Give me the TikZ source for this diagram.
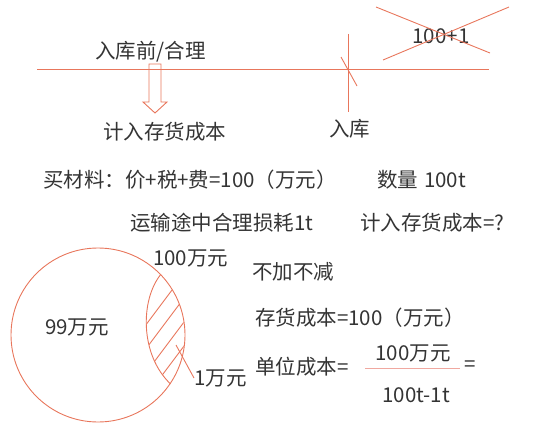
\documentclass[tikz,border=0pt]{standalone}
\usepackage{fontspec}
\setmainfont{Noto Sans CJK SC}
\definecolor{penred}{RGB}{232,118,92}
\definecolor{inkgray}{RGB}{52,52,52}
\definecolor{fracpink}{RGB}{240,168,160}
\tikzset{
  lbl/.style={font=\fontsize{20.5}{24}\selectfont, text=inkgray, inner sep=0pt, anchor=west},
  pen/.style={penred, line width=0.9pt},
}

\begin{document}
\begin{tikzpicture}[x=1pt,y=-1pt]
\useasboundingbox (0,0) rectangle (537,425);
% time line
\draw[pen] (37,69) -- (489,69);
\node[lbl] (before) at (95,52) {入库前/合理};
\draw[pen] (149,64) -- (161,64) -- (161,102) -- (167,102) -- (155,113) -- (143,102) -- (149,102) -- cycle;
\node[lbl] (costin) at (103,132) {计入存货成本};
\draw[pen] (348,34) -- (348,112);
\draw[pen] (341,57) -- (357,86);
\node[lbl] (instock) at (329,129) {入库};
\node[lbl, anchor=center] (wrong) at (441,36) {100+1};
\draw[pen] (wrong.center) ++(-65,-29) -- ++(114,46);
\draw[pen] (wrong.center) ++(-58,24) -- ++(126,-53);
% given data
\node[lbl] (buy) at (43,180) {买材料：价+税+费=100（万元）};
\node[lbl] (qty) at (377,180) {数量\hspace{6pt}100t};
\node[lbl] (loss) at (130,223) {运输途中合理损耗1t};
\node[lbl] (ask) at (360,223) {计入存货成本=?};
% pie
\node[pen, draw, circle, minimum size=174pt, inner sep=0pt] (pie) at (98,335) {};
\draw[pen] (pie.44) .. controls (140,300) and (140,355) .. (pie.-34);
\begin{scope}
  \clip (98,335) circle (86.5pt);
  \clip (pie.44) .. controls (140,300) and (140,355) .. (pie.-34) -- (200,400) -- (200,260) -- cycle;
  \foreach \y in {346,370,394,418}
    \draw[pen] (130,\y) -- ++(60,-80);
\end{scope}
\node[lbl] (main) at (45,327) {99万元};
\node[lbl] (total) at (153,258) {100万元};
\node[lbl] (onewan) at (194,378) {1万元};
\coordinate (hatchpt) at (176,345);
\draw[pen] (hatchpt) -- (onewan.west);
% unit cost
\node[lbl] (nochg) at (252,272) {不加不减};
\node[lbl] (cost) at (255,318) {存货成本=100（万元）};
\node[lbl] (unit) at (255,367) {单位成本=};
\node[lbl, anchor=center] (num) at (413,353) {100万元};
\node[lbl, anchor=center] (den) at (416,395) {100t-1t};
\coordinate (barL) at (365,368);
\coordinate (barR) at (460,368);
\draw[fracpink, line width=1pt] (barL) -- (barR);
\node[lbl] (eq) at (464,366) {=};
\end{tikzpicture}
\end{document}
